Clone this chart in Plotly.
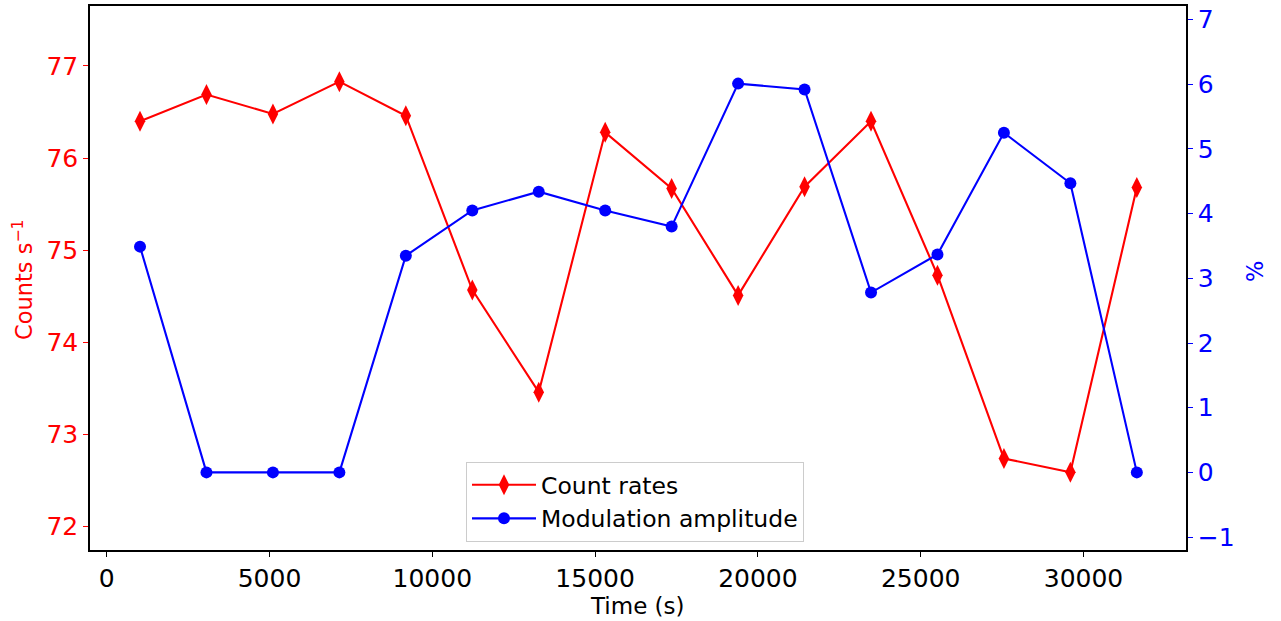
import plotly.graph_objects as go

time_s = [1023, 3064, 5105, 7146, 9187, 11228, 13269, 15310, 17351, 19392,
          21433, 23474, 25515, 27556, 29597, 31638]
count_rates = [76.40, 76.69, 76.48, 76.83, 76.46, 74.57, 73.46, 76.28, 75.67, 74.51,
               75.69, 76.40, 74.73, 72.74, 72.59, 75.68]
mod_amp = [3.49, 0.0, 0.0, 0.0, 3.35, 4.05, 4.34, 4.05, 3.80, 6.01,
           5.92, 2.78, 3.37, 5.25, 4.47, 0.0]

x_ticks = [0, 5000, 10000, 15000, 20000, 25000, 30000]
x_ticktext = ["0", "5000", "10000", "15000", "20000", "25000", "30000"]
left_ticks = [72, 73, 74, 75, 76, 77]
right_ticks = [-1, 0, 1, 2, 3, 4, 5, 6, 7]
right_ticktext = ["−1", "0", "1", "2", "3", "4", "5", "6", "7"]

FONT = "DejaVu Sans"
W, H = 1281, 621
L, R, T, B = 90, 95, 6, 71
pw, ph = W - L - R, H - T - B

fig = go.Figure()
fig.add_trace(go.Scatter(
    x=time_s, y=count_rates, mode="lines+markers", name="Count rates",
    line=dict(color="#ff0000", width=2.1),
    marker=dict(symbol="diamond-tall", size=15, color="#ff0000"),
    yaxis="y"))
fig.add_trace(go.Scatter(
    x=time_s, y=mod_amp, mode="lines+markers", name="Modulation amplitude",
    line=dict(color="#0000ff", width=2.1),
    marker=dict(symbol="circle", size=12, color="#0000ff"),
    yaxis="y2"))

fig.update_layout(
    width=W, height=H,
    margin=dict(l=L, r=R, t=T, b=B, autoexpand=False),
    plot_bgcolor="white", paper_bgcolor="white",
    font=dict(family=FONT, size=18, color="black"),
    showlegend=True,
    legend=dict(x=(466 - L) / pw, y=(H - B - 462) / ph, xanchor="left", yanchor="top",
                bgcolor="rgba(255,255,255,0.8)", bordercolor="#cccccc", borderwidth=1,
                font=dict(family=FONT, size=23.5), tracegroupgap=0, itemwidth=64),
    xaxis=dict(range=[-513, 33148], tickvals=x_ticks, ticktext=x_ticktext, automargin=False,
               showgrid=False, zeroline=False, showline=True, linecolor="black", linewidth=1.5,
               mirror=True, ticks="outside", ticklen=5, tickwidth=1.2, tickcolor="black",
               tickfont=dict(size=25, family=FONT)),
    yaxis=dict(range=[71.747, 77.651], tickvals=left_ticks, automargin=False,
               showgrid=False, zeroline=False, showline=True, linecolor="black", linewidth=1.5,
               ticks="outside", ticklen=5, tickwidth=1.2, tickcolor="#ff0000",
               tickfont=dict(size=25, color="#ff0000", family=FONT)),
    yaxis2=dict(range=[-1.20, 7.21], tickvals=right_ticks, ticktext=right_ticktext,
                overlaying="y", side="right", automargin=False,
                showgrid=False, zeroline=False, showline=True, linecolor="black", linewidth=1.5,
                ticks="outside", ticklen=5, tickwidth=1.2, tickcolor="#0000ff",
                tickfont=dict(size=25, color="#0000ff", family=FONT)),
    annotations=[
        dict(text="Time (s)", xref="paper", yref="paper", x=(637 - L) / pw, y=-(606 - (H - B)) / ph,
             xanchor="center", yanchor="middle", showarrow=False,
             font=dict(size=23, family=FONT, color="black")),
        dict(text="Counts s<sup>−1</sup>", xref="paper", yref="paper", x=-(L - 22) / pw,
             y=(H - B - 280) / ph, xanchor="center", yanchor="middle", showarrow=False, textangle=-90,
             font=dict(size=22.5, family=FONT, color="#ff0000")),
        dict(text="%", xref="paper", yref="paper", x=1 + (1255 - (W - R)) / pw,
             y=(H - B - 272) / ph, xanchor="center", yanchor="middle", showarrow=False, textangle=-90,
             font=dict(size=22.5, family=FONT, color="#0000ff")),
    ],
)
fig.write_html("out.html", config={"displayModeBar": False},
               post_script="document.body.style.margin='0';")
